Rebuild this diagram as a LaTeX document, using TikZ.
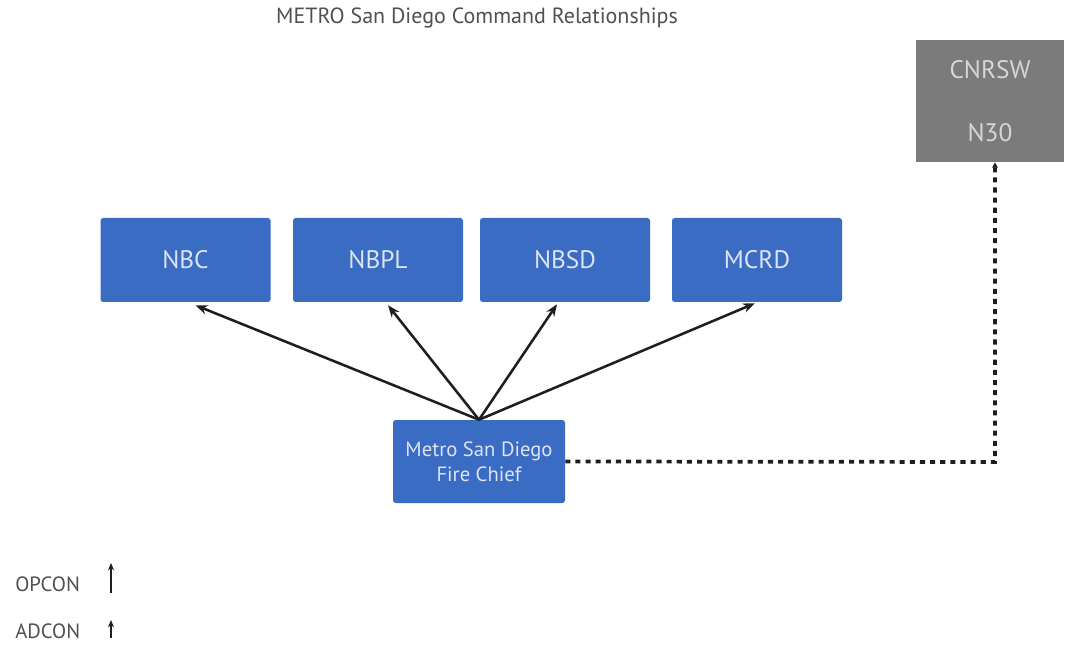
\documentclass[tikz,border=0pt]{standalone}
\usepackage{fontspec}
\setmainfont{PT Sans}
\usetikzlibrary{arrows.meta,calc}
\definecolor{boxblue}{HTML}{3B6CC4}
\definecolor{boxtext}{HTML}{DCE3F3}
\definecolor{cngray}{HTML}{7B7B7B}
\definecolor{cntext}{HTML}{D6D6D6}
\definecolor{titlegray}{HTML}{505050}
\definecolor{linegray}{HTML}{1E1E1E}
\begin{document}
\begin{tikzpicture}[x=0.75pt,y=-0.75pt,
  bluebox/.style={fill=boxblue, rounded corners=2pt, minimum width=127.5pt, minimum height=63pt, inner sep=0pt, text=boxtext, font=\fontsize{19}{22}\selectfont},
  graybox/.style={fill=cngray, minimum width=111pt, minimum height=91.5pt, inner sep=0pt, text=cntext, align=center, font=\fontsize{19}{47}\selectfont},
  cmdarrow/.style={draw=linegray, line width=1.9pt, -{Stealth[length=9pt,width=7pt]}},
  dotline/.style={draw=linegray, line width=2.8pt, dash pattern=on 3.8pt off 3.8pt, -{Triangle[length=4pt,width=4pt]}},
  legendtext/.style={text=titlegray, font=\fontsize{15.5}{18}\selectfont, anchor=west, inner sep=0pt},
  legarrow/.style={draw=linegray, line width=1.4pt, -{Stealth[length=5.5pt,width=4.5pt]}}
]
\useasboundingbox (0,0) rectangle (1068,645);

\node[text=titlegray, font=\fontsize{16.5}{20}\selectfont] (title) at (477,18) {METRO San Diego Command Relationships};

\node[bluebox] (nbc) at (185.5,260) {NBC};
\node[bluebox] (nbpl) at (378,260) {NBPL};
\node[bluebox] (nbsd) at (565,260) {NBSD};
\node[bluebox] (mcrd) at (757,260) {MCRD};

\node[bluebox, minimum width=129pt, minimum height=62.25pt, align=center, font=\fontsize{15.5}{19}\selectfont] (chief) at (479,461.5) {Metro San Diego\\Fire Chief};

\node[graybox] (cnrsw) at (990,101) {CNRSW\\N30};

\draw[cmdarrow] (chief.north) -- ($(nbc.south)+(10,3)$);
\draw[cmdarrow] (chief.north) -- ($(nbpl.south)+(10,3)$);
\draw[cmdarrow] (chief.north) -- ($(nbsd.south)+(-8,2)$);
\draw[cmdarrow] (chief.north) -- ($(mcrd.south)+(-2,1)$);

\coordinate (corner) at (995,462);
\draw[dotline] (chief.east) -- (corner) -- (cnrsw.south -| corner);

\node[legendtext] (opcon) at (15,584) {OPCON};
\node[legendtext] (adcon) at (15,631) {ADCON};
\coordinate (opA) at (111,593);
\coordinate (opB) at (111,563);
\coordinate (adA) at (111,638);
\coordinate (adB) at (111,620);
\draw[legarrow] (opA) -- (opB);
\draw[legarrow] (adA) -- (adB);
\end{tikzpicture}
\end{document}
